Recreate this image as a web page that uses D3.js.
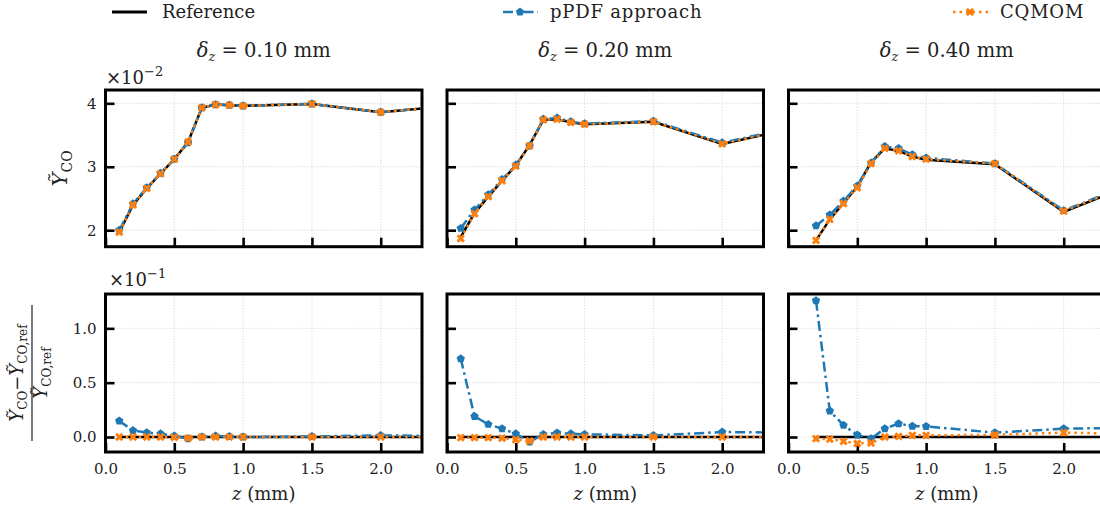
<!DOCTYPE html>
<html>
<head>
<meta charset="utf-8">
<script src="https://cdn.jsdelivr.net/npm/d3@7"></script>
<style>
  body { margin: 0; background: #fff; }
  text { font-family: 'DejaVu Serif', serif; fill: #222; }
  .tick text { font-size: 15px; }
  .grid line { stroke: #d0d0d0; stroke-width: 0.8; stroke-dasharray: 1.2,1.6; }
</style>
</head>
<body>
<div id="chart"></div>
<script>
// data
var zFine = [0.1, 0.2, 0.3, 0.4, 0.5, 0.6, 0.7, 0.8, 0.9, 1.0, 1.5, 2.0, 2.5];
var zCoarse = [0.2, 0.3, 0.4, 0.5, 0.6, 0.7, 0.8, 0.9, 1.0, 1.5, 2.0, 2.5];

// top row: Y_CO (x 1e-2)
var ref1  = [1.97, 2.40, 2.66, 2.89, 3.12, 3.39, 3.93, 3.98, 3.97, 3.96, 3.99, 3.86, 3.96];
var ppdf1 = [2.00, 2.42, 2.67, 2.90, 3.12, 3.38, 3.93, 3.98, 3.97, 3.96, 3.99, 3.86, 3.96];
var cq1   = [1.97, 2.40, 2.66, 2.89, 3.12, 3.39, 3.93, 3.98, 3.97, 3.96, 3.99, 3.86, 3.96];

var ref2  = [1.89, 2.27, 2.53, 2.78, 3.02, 3.34, 3.74, 3.75, 3.70, 3.67, 3.71, 3.36, 3.60];
var ppdf2 = [2.03, 2.32, 2.56, 2.80, 3.03, 3.33, 3.75, 3.77, 3.71, 3.68, 3.72, 3.38, 3.61];
var cq2   = [1.87, 2.26, 2.53, 2.78, 3.01, 3.33, 3.74, 3.75, 3.70, 3.67, 3.71, 3.36, 3.60];

var ref3  = [1.84, 2.17, 2.43, 2.69, 3.07, 3.29, 3.25, 3.16, 3.11, 3.04, 2.29, 2.72];
var ppdf3 = [2.07, 2.24, 2.46, 2.70, 3.06, 3.32, 3.29, 3.19, 3.14, 3.05, 2.31, 2.74];
var cq3   = [1.84, 2.17, 2.42, 2.67, 3.05, 3.29, 3.25, 3.16, 3.12, 3.05, 2.30, 2.73];

// bottom row: relative error (x 1e-1)
var errRef1 = [0, 0, 0, 0, 0, 0, 0, 0, 0, 0, 0, 0, 0];
var errP1 = [0.148, 0.06, 0.04, 0.03, 0.01, -0.015, 0.0, 0.01, 0.005, 0.0, 0.005, 0.015, 0.008];
var errC1 = [0.0, 0.0, 0.0, 0.0, -0.003, -0.01, 0.0, 0.0, 0.0, 0.0, 0.0, 0.0, 0.0];

var errRef2 = [0, 0, 0, 0, 0, 0, 0, 0, 0, 0, 0, 0, 0];
var errP2 = [0.72, 0.19, 0.117, 0.077, 0.03, -0.046, 0.025, 0.037, 0.03, 0.025, 0.015, 0.046, 0.04];
var errC2 = [-0.006, -0.006, -0.006, -0.01, -0.025, -0.037, 0, 0, 0, 0, 0, 0, 0];

var errRef3 = [0, 0, 0, 0, 0, 0, 0, 0, 0, 0, 0, 0];
var errP3 = [1.255, 0.24, 0.108, 0.02, -0.015, 0.077, 0.123, 0.10, 0.098, 0.04, 0.077, 0.085];
var errC3 = [-0.015, -0.02, -0.04, -0.06, -0.055, 0.0, 0.006, 0.015, 0.015, 0.02, 0.04, 0.03];

var titles = ['0.10', '0.20', '0.40'];
var xTicks = [0.0, 0.5, 1.0, 1.5, 2.0];
var yTopTicks = [2, 3, 4];
var yBotTicks = [0.0, 0.5, 1.0];
var legendNames = ['Reference', 'pPDF approach', 'CQMOM'];

var panels = [
    { z: zFine, top: [ref1, ppdf1, cq1], bot: [errRef1, errP1, errC1] },
    { z: zFine, top: [ref2, ppdf2, cq2], bot: [errRef2, errP2, errC2] },
    { z: zCoarse, top: [ref3, ppdf3, cq3], bot: [errRef3, errP3, errC3] }
];

// layout
var width = 1100, height = 517;
var lefts = [105.5, 447, 788.5], pw = 316.5;
var topRow = [90, 246.7], botRow = [294, 452];
var colors = ['#000000', '#1f77b4', '#ff7f0e'];
var dashes = [null, '10,4,2.5,4', '2.5,4'];

var svg = d3.select('#chart')
    .append('svg')
    .attr('width', width)
    .attr('height', height);

var pentagon = {
    draw: function(ctx, size){
        var r = Math.sqrt(size / 2.378);
        for (var i = 0; i < 5; i++) {
            var a = -Math.PI / 2 + i * 2 * Math.PI / 5;
            if (i == 0) ctx.moveTo(r * Math.cos(a), r * Math.sin(a));
            else ctx.lineTo(r * Math.cos(a), r * Math.sin(a));
        }
        ctx.closePath();
    }
};
var markP = d3.symbol().type(pentagon).size(46);
var markX = d3.symbol().type(d3.symbolCross).size(44);

function drawMarkers(g, pts, k){
    if (k == 1) {
        g.selectAll('.mp').data(pts).enter().append('path')
            .attr('d', markP)
            .attr('transform', function(d){ return 'translate(' + d[0] + ',' + d[1] + ')'; })
            .attr('fill', colors[1]);
    } else if (k == 2) {
        g.selectAll('.mx').data(pts).enter().append('path')
            .attr('d', markX)
            .attr('transform', function(d){ return 'translate(' + d[0] + ',' + d[1] + ') rotate(45)'; })
            .attr('fill', colors[2]);
    }
}

function drawPanel(i, row, yDomain, yTicks, series, showX){
    var x0 = lefts[i];
    var xScale = d3.scaleLinear().domain([0, 2.3]).range([x0, x0 + pw]);
    var yScale = d3.scaleLinear().domain(yDomain).range([row[1], row[0]]);
    var g = svg.append('g');

    // grid
    var grid = g.append('g').attr('class', 'grid');
    grid.selectAll('.gx').data(xTicks.slice(1)).enter().append('line')
        .attr('x1', function(d){ return xScale(d); })
        .attr('x2', function(d){ return xScale(d); })
        .attr('y1', row[0]).attr('y2', row[1]);
    grid.selectAll('.gy').data(yTicks).enter().append('line')
        .attr('x1', x0).attr('x2', x0 + pw)
        .attr('y1', function(d){ return yScale(d); })
        .attr('y2', function(d){ return yScale(d); });

    // axes, ticks inward
    var xAxis = d3.axisBottom(xScale).tickValues(xTicks)
        .tickSizeInner(-9).tickSizeOuter(0).tickPadding(11)
        .tickFormat(showX ? d3.format('.1f') : '');
    g.append('g')
        .attr('transform', 'translate(0,' + row[1] + ')')
        .call(xAxis)
        .call(function(a){ a.select('.domain').remove(); });
    var yAxis = d3.axisLeft(yScale).tickValues(yTicks)
        .tickSizeInner(-9).tickSizeOuter(0).tickPadding(9)
        .tickFormat(i == 0 ? (yTicks[0] == 2 ? d3.format('d') : d3.format('.1f')) : '');
    g.append('g')
        .attr('transform', 'translate(' + x0 + ',0)')
        .call(yAxis)
        .call(function(a){ a.select('.domain').remove(); });
    g.selectAll('.tick line').attr('stroke', '#000').attr('stroke-width', 2.6);

    // data
    var cid = 'clip' + i + '_' + row[0];
    svg.append('clipPath').attr('id', cid).append('rect')
        .attr('x', x0).attr('y', row[0]).attr('width', pw).attr('height', row[1] - row[0]);
    var dg = g.append('g').attr('clip-path', 'url(#' + cid + ')');
    var line = d3.line()
        .x(function(d){ return xScale(d[0]); })
        .y(function(d){ return yScale(d[1]); });
    series.forEach(function(vals, k){
        var pts = panels[i].z.map(function(z, j){ return [z, vals[j]]; });
        dg.append('path')
            .datum(pts)
            .attr('d', line)
            .attr('fill', 'none')
            .attr('stroke', colors[k])
            .attr('stroke-width', 2.5)
            .attr('stroke-dasharray', dashes[k]);
        drawMarkers(dg, pts.map(function(p){ return [xScale(p[0]), yScale(p[1])]; }), k);
    });

    // frame
    g.append('rect')
        .attr('x', x0).attr('y', row[0])
        .attr('width', pw).attr('height', row[1] - row[0])
        .attr('fill', 'none').attr('stroke', '#000').attr('stroke-width', 3);

    if (showX) {
        var t = g.append('text')
            .attr('x', x0 + pw / 2).attr('y', 500)
            .attr('text-anchor', 'middle')
            .style('font-size', '18px');
        t.append('tspan').style('font-style', 'italic').text('z');
        t.append('tspan').text(' (mm)');
    }
}

panels.forEach(function(p, i){
    drawPanel(i, topRow, [1.74, 4.21], yTopTicks, p.top, false);
    drawPanel(i, botRow, [-0.138, 1.316], yBotTicks, p.bot, true);

    var t = svg.append('text')
        .attr('x', lefts[i] + pw / 2).attr('y', 57)
        .attr('text-anchor', 'middle')
        .style('font-size', '19.5px');
    t.append('tspan').style('font-style', 'italic').text('δ');
    t.append('tspan').style('font-style', 'italic').style('font-size', '13px').attr('dy', 4).text('z');
    t.append('tspan').attr('dy', -4).text(' = ' + titles[i] + ' mm');
});

// offset texts
function offsetText(x, y, exp){
    var t = svg.append('text').attr('x', x).attr('y', y).style('font-size', '18px');
    t.append('tspan').text('×10');
    t.append('tspan').attr('dy', -8).style('font-size', '13px').text('−' + exp);
}
offsetText(106, 84, '2');
offsetText(109, 286, '1');

// y labels
var yl = svg.append('text')
    .attr('transform', 'translate(67,' + (topRow[0] + topRow[1]) / 2 + ') rotate(-90)')
    .attr('text-anchor', 'middle')
    .style('font-size', '21px');
yl.append('tspan').style('font-style', 'italic').text('Y\u0303');
yl.append('tspan').attr('dy', 5).style('font-size', '14px').text('CO');

var fy = svg.append('g')
    .attr('transform', 'translate(30,' + (botRow[0] + botRow[1]) / 2 + ') rotate(-90)');
var num = fy.append('text').attr('x', 0).attr('y', -7)
    .attr('text-anchor', 'middle').style('font-size', '18px');
num.append('tspan').style('font-style', 'italic').text('Y\u0303');
num.append('tspan').attr('dy', 4).style('font-size', '12px').text('CO');
num.append('tspan').attr('dy', -4).text('−');
num.append('tspan').style('font-style', 'italic').text('Y\u0303');
num.append('tspan').attr('dy', 4).style('font-size', '12px').text('CO,ref');
fy.append('line')
    .attr('x1', -68).attr('x2', 68).attr('y1', 2).attr('y2', 2)
    .attr('stroke', '#222').attr('stroke-width', 1.2);
var den = fy.append('text').attr('x', 0).attr('y', 17)
    .attr('text-anchor', 'middle').style('font-size', '18px');
den.append('tspan').style('font-style', 'italic').text('Y\u0303');
den.append('tspan').attr('dy', 4).style('font-size', '12px').text('CO,ref');

// legend
var legX = [112, 503, 953], legTextX = [162, 550, 1000];
legendNames.forEach(function(name, k){
    var lg = svg.append('g');
    lg.append('line')
        .attr('x1', legX[k]).attr('x2', legX[k] + 35)
        .attr('y1', 12).attr('y2', 12)
        .attr('stroke', colors[k]).attr('stroke-width', k == 0 ? 3 : 2.5)
        .attr('stroke-dasharray', dashes[k]);
    drawMarkers(lg, [[legX[k] + 17, 12]], k);
    lg.append('text')
        .attr('x', legTextX[k]).attr('y', 18)
        .style('font-size', '18px')
        .style('letter-spacing', k == 0 ? '0px' : '0.8px')
        .text(name);
});
</script>
</body>
</html>
